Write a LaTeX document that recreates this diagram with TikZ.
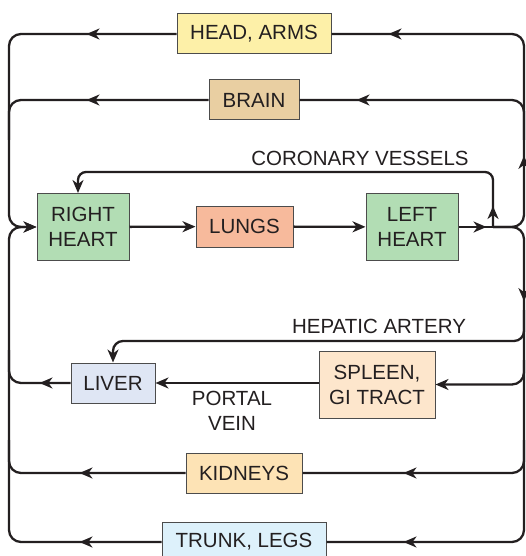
\documentclass[tikz,border=0pt]{standalone}
\usepackage{fontspec}
\setmainfont{Liberation Sans}
\usetikzlibrary{arrows.meta,decorations.markings}
\definecolor{txt}{HTML}{231F20}
\definecolor{cHA}{HTML}{FDF0A8}
\definecolor{cBR}{HTML}{E9CFA2}
\definecolor{cHT}{HTML}{B2DDB4}
\definecolor{cLU}{HTML}{F7BA9C}
\definecolor{cLI}{HTML}{DFE6F4}
\definecolor{cSP}{HTML}{FDE6CC}
\definecolor{cKI}{HTML}{FDE3B5}
\definecolor{cTL}{HTML}{DDF1FB}
\tikzset{
  box/.style={draw=black!70, line width=1pt, inner sep=0pt, align=center, text=txt,
    font=\fontsize{20.5}{25}\selectfont},
  lbl/.style={inner sep=0pt, align=center, text=txt, font=\fontsize{20.5}{25}\selectfont},
  vessel/.style={draw=txt, line width=2.3pt, rounded corners=12pt},
  tip/.style={-{Stealth[length=13pt,width=11pt,inset=4pt]}},
  arr/.style={postaction={decorate,decoration={markings,
    mark=at position #1 with {\arrow{Stealth[length=13pt,width=11pt,inset=4pt]}}}}}
}
\begin{document}
\begin{tikzpicture}[x=1pt,y=-1pt]
\useasboundingbox (0,0) rectangle (525,556);
% nodes
\node[box, fill=cHA, minimum width=154pt, minimum height=40pt] (ha) at (254,34) {HEAD, ARMS};
\node[box, fill=cBR, minimum width=90pt, minimum height=40pt] (br) at (254,100) {BRAIN};
\node[box, fill=cHT, minimum width=92pt, minimum height=67pt] (rh) at (83,227) {RIGHT\\HEART};
\node[box, fill=cLU, minimum width=97pt, minimum height=41pt] (lu) at (244.5,226.5) {LUNGS};
\node[box, fill=cHT, minimum width=92pt, minimum height=67pt] (lh) at (412,227) {LEFT\\HEART};
\node[box, fill=cLI, minimum width=84pt, minimum height=40pt] (li) at (113,383) {LIVER};
\node[box, fill=cSP, minimum width=116pt, minimum height=67pt] (sp) at (377,384.5) {SPLEEN,\\GI TRACT};
\node[box, fill=cKI, minimum width=116pt, minimum height=40pt] (ki) at (244,473) {KIDNEYS};
\node[box, fill=cTL, minimum width=164pt, minimum height=40pt] (tl) at (244,542) {TRUNK, LEGS};
% labels
\node[lbl] (cv) at (360,158) {CORONARY VESSELS};
\node[lbl] (hep) at (379,326) {HEPATIC ARTERY};
\node[lbl] (pv) at (232,411) {PORTAL\\VEIN};
% coordinates
\coordinate (J) at (493,227);
\coordinate (R) at (524,227);
\coordinate (L) at (9,227);
% pulmonary
\draw[vessel, tip] (rh) -- (lu);
\draw[vessel, tip] (lu) -- (lh);
\draw[vessel, arr=28pt] (lh) -- (J);
% coronary
\draw[vessel, rounded corners=8pt, tip, arr=21pt] (J) -- (J |- 0,172) -- (78,172) -- ([xshift=-5pt]rh.north);
% upper systemic
\draw[vessel, arr=97pt, arr=-57pt] (J) -- (R) -- (R |- ha) -- (ha.east);
\draw[vessel, arr=-57pt] (524,140) -- (524,100) -- (br.east);
% lower systemic
\draw[vessel, arr=100pt, arr=-77pt] (J) -- (R) -- (R |- tl) -- (tl.east);
\draw[vessel, rounded corners=10pt, tip] (524,310) -- (524,341) -- (li.north |- 0,341) -- (li.north);
\draw[vessel, tip] (524,360) -- (524,384.5) -- (sp.east);
\draw[vessel, arr=-101pt] (524,440) -- (524,473) -- (ki.east);
% portal
\draw[vessel, tip] (sp.west |- li) -- (li.east);
% returns
\draw[vessel, tip, arr=90pt] (ha.west) -- (ha.west -| L) -- (L) -- (rh.west);
\draw[vessel, arr=122pt] (br.west) -- (9,100) -- (9,140);
\draw[vessel, arr=31pt] (li.west) -- (9,383) -- (9,350);
\draw[vessel, arr=106pt] (ki.west) -- (9,473) -- (9,440);
\draw[vessel, tip, arr=82pt] (tl.west) -- (tl.west -| L) -- (L) -- (rh.west);
\end{tikzpicture}
\end{document}
